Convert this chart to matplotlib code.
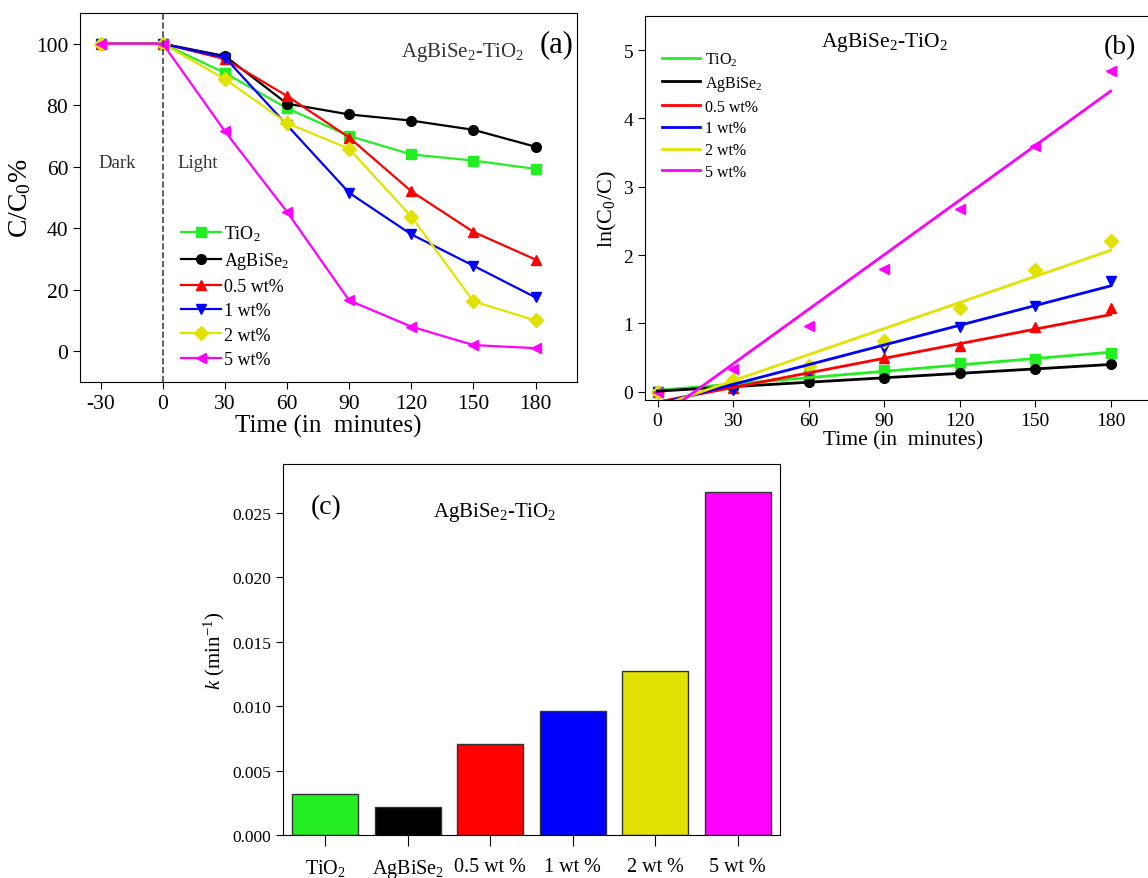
import matplotlib
matplotlib.use("Agg")
import matplotlib.pyplot as plt
import numpy as np

plt.rcParams['font.family'] = ['Liberation Serif', 'DejaVu Serif']
plt.rcParams['mathtext.fontset'] = 'custom'
plt.rcParams['mathtext.rm'] = 'Liberation Serif'
plt.rcParams['mathtext.it'] = 'Liberation Serif:italic'
plt.rcParams['axes.unicode_minus'] = False

# --- data ---
samples = ["TiO$_2$", "AgBiSe$_2$", "0.5 wt%", "1 wt%", "2 wt%", "5 wt%"]
colors = ["#22ee22", "black", "#ff0000", "#0000ff", "#e2e200", "#ff00ff"]
markers_a = ["s", "o", "^", "v", "D", "<"]

# (a) C/C0 % vs time
time_a = [-30, 0, 30, 60, 90, 120, 150, 180]
tio2_a = [100, 100, 90.5, 79, 70, 64, 62, 59.3]
agbise2_a = [100, 100, 96, 80.5, 77, 75, 72, 66.5]
wt05_a = [100, 100, 95, 83, 69.5, 52, 38.8, 29.8]
wt1_a = [100, 100, 95.5, 73.5, 51.5, 38, 27.8, 17.5]
wt2_a = [100, 100, 88.5, 74.2, 65.8, 43.8, 16.2, 10]
wt5_a = [100, 100, 71.5, 45.3, 16.5, 8, 2, 1]

# (b) ln(C0/C) vs time, points and linear fit ends (t=0 and t=180)
time_b = [0, 30, 60, 90, 120, 150, 180]
tio2_b = [0, 0.1, 0.24, 0.32, 0.42, 0.48, 0.57]
agbise2_b = [0, 0.07, 0.15, 0.2, 0.28, 0.33, 0.40]
wt05_b = [0, 0.05, 0.27, 0.49, 0.67, 0.95, 1.23]
wt1_b = [0, 0.02, 0.3, 0.64, 0.95, 1.26, 1.62]
wt2_b = [0, 0.17, 0.38, 0.74, 1.22, 1.78, 2.2]
wt5_b = [0, 0.34, 0.97, 1.8, 2.68, 3.59, 4.7]
fit_t = [0, 180]
fit_start = [0.02, 0.01, -0.15, -0.18, -0.22, -0.39]
fit_end = [0.58, 0.40, 1.13, 1.55, 2.07, 4.40]

# (c) rate constants
bar_labels = ["TiO$_2$", "AgBiSe$_2$", "0.5 wt %", "1 wt %", "2 wt %", "5 wt %"]
k_values = [0.0032, 0.0022, 0.0071, 0.0096, 0.0127, 0.0266]

series_a = [tio2_a, agbise2_a, wt05_a, wt1_a, wt2_a, wt5_a]
series_b = [tio2_b, agbise2_b, wt05_b, wt1_b, wt2_b, wt5_b]

fig = plt.figure(figsize=(11.48, 8.79), dpi=100)

# ---------- (a) ----------
ax1 = fig.add_axes([0.0697, 0.5643, 0.4329, 0.4198])
for y, c, m, lab in zip(series_a, colors, markers_a, samples):
    ax1.plot(time_a, y, color=c, marker=m, lw=1.6, ms=7, label=lab)
ax1.axvline(0, color="#444444", ls="--", lw=1.2)
ax1.set_xlim(-40, 200)
ax1.set_ylim(-10, 110)
ax1.set_xticks(time_a)
ax1.set_yticks([0, 20, 40, 60, 80, 100])
ax1.tick_params(labelsize=15.5, direction="out", length=5)
ax1.set_xlabel("Time (in  minutes)", fontsize=18, labelpad=1)
ax1.set_ylabel("C/C$_0$%", fontsize=20, labelpad=2)
ax1.text(-22, 61.5, "Dark", fontsize=13.5, ha="center", va="center", color="#333333")
ax1.text(17, 61.5, "Light", fontsize=13.5, ha="center", va="center", color="#333333")
ax1.text(145, 97.6, "AgBiSe$_2$-TiO$_2$", fontsize=15, ha="center", va="center", color="#333333")
ax1.text(190, 100, "(a)", fontsize=22, ha="center", va="center")
ax1.legend(loc="upper left", bbox_to_anchor=(0.185, 0.455), frameon=False, fontsize=13,
           handlelength=2.2, handletextpad=0.2, labelspacing=0.4, borderpad=0)

# ---------- (b) ----------
ax2 = fig.add_axes([0.5618, 0.5438, 0.4495, 0.4369])
for y, c, m in zip(series_b, colors, markers_a):
    ax2.plot(time_b, y, color=c, marker=m, ls="none", ms=7)
for s, e, c, lab in zip(fit_start, fit_end, colors, samples):
    ax2.plot(fit_t, [s, e], color=c, lw=2, label=lab)
ax2.set_xlim(-5, 200)
ax2.set_ylim(-0.12, 5.5)
ax2.set_xticks(time_b)
ax2.set_yticks([0, 1, 2, 3, 4, 5])
ax2.tick_params(labelsize=14, direction="out", length=5)
ax2.set_xlabel("Time (in  minutes)", fontsize=15.5, labelpad=1)
ax2.set_ylabel("ln(C$_0$/C)", fontsize=16, labelpad=3)
ax2.text(90, 5.12, "AgBiSe$_2$-TiO$_2$", fontsize=15.5, ha="center", va="center")
ax2.text(183.5, 5.05, "(b)", fontsize=20, ha="center", va="center")
ax2.legend(loc="upper left", bbox_to_anchor=(0.017, 0.93), frameon=False, fontsize=11.5,
           handlelength=2.4, handletextpad=0.3, labelspacing=0.36, borderpad=0)

# ---------- (c) ----------
ax3 = fig.add_axes([0.2465, 0.0489, 0.4329, 0.4221])
x = np.arange(len(k_values))
ax3.bar(x, k_values, width=0.8, color=colors, edgecolor="#333333", lw=1)
ax3.set_xlim(-0.51, 5.51)
ax3.set_ylim(0, 0.0288)
ax3.set_xticks(x)
ax3.set_xticklabels(bar_labels)
ax3.set_yticks([0, 0.005, 0.010, 0.015, 0.020, 0.025])
ax3.set_yticklabels(["0.000", "0.005", "0.010", "0.015", "0.020", "0.025"])
ax3.tick_params(axis="y", labelsize=12.5, direction="out", length=5)
ax3.tick_params(axis="x", labelsize=14.5, direction="out", length=8, pad=8)
ax3.set_ylabel("$k$ (min$^{-1}$)", fontsize=15, labelpad=4)
ax3.text(0.01, 0.0255, "(c)", fontsize=20, ha="center", va="center")
ax3.text(2.06, 0.0251, "AgBiSe$_2$-TiO$_2$", fontsize=15, ha="center", va="center")

fig.savefig("out.png", dpi=100)
